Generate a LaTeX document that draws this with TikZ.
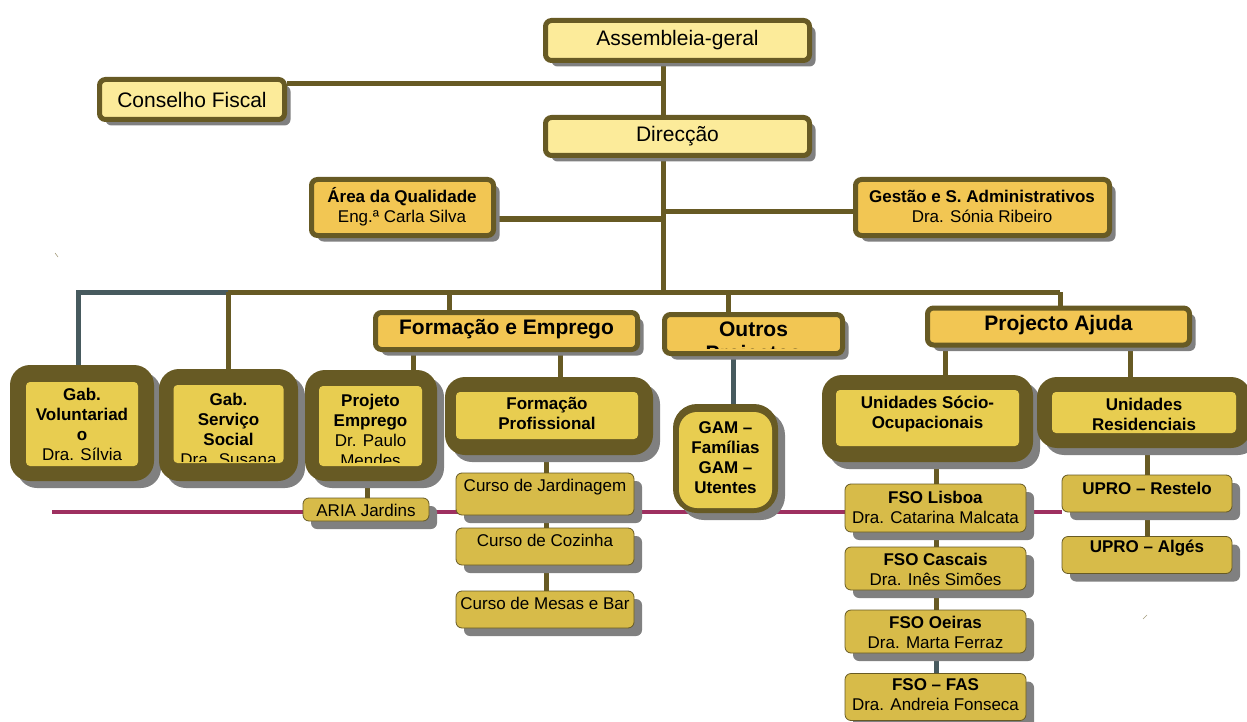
\documentclass[tikz,border=0pt]{standalone}
\usepackage{fontspec}
\setmainfont{Liberation Sans}
\usetikzlibrary{shadows,calc,backgrounds}
\definecolor{oliv}{HTML}{675A24}
\definecolor{lightyel}{HTML}{FCEB9A}
\definecolor{orangey}{HTML}{F2C653}
\definecolor{inneryel}{HTML}{E8CD50}
\definecolor{smallyel}{HTML}{D7BB49}
\definecolor{slate}{HTML}{475A5E}
\definecolor{magen}{HTML}{9E3060}
\definecolor{shad}{HTML}{808080}
\tikzset{
  shd/.style={drop shadow={shadow xshift=#1,shadow yshift=-#1,fill=shad,opacity=1}},
  topbox/.style={draw=oliv,line width=5pt,fill=lightyel,rounded corners=6pt,shd=6pt,inner sep=0pt,
    font=\fontsize{21}{24}\selectfont},
  midbox/.style={draw=oliv,line width=5pt,fill=orangey,rounded corners=6pt,shd=6pt,inner sep=0pt,align=center},
  bigout/.style={fill=oliv,rounded corners=20pt,shd=7pt,inner sep=0pt},
  bigin/.style={fill=inneryel,rounded corners=4pt,inner sep=0pt},
  smallbox/.style={draw=oliv,line width=0.8pt,fill=smallyel,rounded corners=6pt,shd=8pt,inner sep=0pt},
  txt/.style={inner sep=0pt,align=center,font=\fontsize{17}{20}\selectfont},
  conn/.style={draw=oliv,line width=5pt},
  sconn/.style={draw=slate,line width=5pt},
}
\begin{document}
\begin{tikzpicture}[x=1pt,y=-1pt]
\useasboundingbox (0,0) rectangle (1247,722);

% ---- top level
\node[topbox,minimum width=264,minimum height=40] (ag) at (677.5,40.5) {Assembleia-geral};
\node[topbox,minimum width=185,minimum height=40] (cf) at (192,99.5) {Conselho Fiscal};
\node[topbox,minimum width=264,minimum height=38] (dir) at (677.5,136.5) {Direcção};

\node[midbox,minimum width=182,minimum height=56] (aq) at (402.5,207.5) {};
\node[txt] at (402,206.5) {\textbf{Área da Qualidade}\\Eng.ª Carla Silva};
\node[midbox,minimum width=254,minimum height=56] (gsa) at (982.5,207.5) {};
\node[txt] at (982,206.5) {\textbf{Gestão e S. Administrativos}\\Dra. Sónia Ribeiro};

% ---- second level
\node[midbox,minimum width=262,minimum height=37] (fe) at (506.5,331) {};
\node[txt,font=\fontsize{21}{24}\selectfont\bfseries] at (506.5,329) {Formação e Emprego};
\node[midbox,minimum width=178,minimum height=39] (op) at (753.5,334) {};
\node[txt,font=\fontsize{21}{24}\selectfont\bfseries] at (753.5,329) {Outros};
\begin{scope}
  \clip (667,317) rectangle (840,348.5);
  \node[txt,font=\fontsize{21}{24}\selectfont\bfseries] at (753.5,355) {Projectos};
\end{scope}
\node[midbox,minimum width=262,minimum height=37] (pa) at (1058.5,326.5) {};
\node[txt,font=\fontsize{21}{24}\selectfont\bfseries] at (1058.5,325) {Projecto Ajuda};

% ---- big boxes
\node[bigout,minimum width=144,minimum height=116] (gv) at (82,423) {};
\node[bigin,minimum width=112,minimum height=84] (gvi) at (82,424) {};
\node[txt,anchor=north] at (82,388) {\textbf{Gab.}\\\textbf{Voluntariad}\\\textbf{o}\\Dra. Sílvia};

\node[bigout,minimum width=139,minimum height=112] (gss) at (228.5,425) {};
\node[bigin,minimum width=110,minimum height=78] (gssi) at (228.5,424) {};
\begin{scope}
  \clip (173.5,385) rectangle (283.5,461.5);
  \node[txt,anchor=north] at (228.5,393) {\textbf{Gab.}\\\textbf{Serviço}\\\textbf{Social}\\Dra. Susana};
\end{scope}

\node[bigout,minimum width=132,minimum height=111] (pe) at (371,425.5) {};
\node[bigin,minimum width=103,minimum height=80] (pei) at (370.5,426) {};
\begin{scope}
  \clip (319,386) rectangle (422,462.5);
  \node[txt,anchor=north] at (370.5,394) {\textbf{Projeto}\\\textbf{Emprego}\\Dr. Paulo\\Mendes};
\end{scope}

\node[bigout,minimum width=208,minimum height=78] (fp) at (549,416) {};
\node[bigin,minimum width=182,minimum height=47] (fpi) at (547,415.5) {};
\node[txt,anchor=north] at (547,397.5) {\textbf{Formação}\\\textbf{Profissional}};

\node[bigout,minimum width=105,minimum height=109,rounded corners=24pt] (gam) at (725.5,458.5) {};
\node[bigin,minimum width=93,minimum height=96,rounded corners=18pt] (gami) at (725.5,460) {};
\node[txt,font=\fontsize{17}{20}\selectfont\bfseries] at (725.5,458) {GAM –\\Famílias\\GAM –\\Utentes};

\node[bigout,minimum width=211,minimum height=87] (uso) at (927.5,418.5) {};
\node[bigin,minimum width=183,minimum height=56] (usoi) at (927.5,418) {};
\node[txt,font=\fontsize{17}{20}\selectfont\bfseries] at (927.5,414) {Unidades Sócio-\\Ocupacionais};

\node[bigout,minimum width=214,minimum height=71] (ur) at (1144,412.5) {};
\node[bigin,minimum width=184,minimum height=41] (uri) at (1144,412.5) {};
\node[txt,font=\fontsize{17}{20}\selectfont\bfseries] at (1144,414) {Unidades\\Residenciais};

% ---- small boxes
\node[smallbox,minimum width=126,minimum height=23] (aria) at (366,509.5) {};
\node[txt] at (366,510) {ARIA Jardins};
\node[smallbox,minimum width=178,minimum height=42] (cj) at (545,494) {};
\node[txt] at (545,487) {Curso de Jardinagem};
\node[smallbox,minimum width=178,minimum height=37] (cc) at (545,546.5) {};
\node[txt] at (545,540) {Curso de Cozinha};
\node[smallbox,minimum width=178,minimum height=37] (cm) at (545,609.5) {};
\node[txt] at (545,603) {Curso de Mesas e Bar};

\node[smallbox,minimum width=181,minimum height=48] (f1) at (935.5,508) {};
\node[txt] at (935.5,507.5) {\textbf{FSO Lisboa}\\Dra. Catarina Malcata};
\node[smallbox,minimum width=181,minimum height=43] (f2) at (935.5,568.5) {};
\node[txt] at (935.5,569) {\textbf{FSO Cascais}\\Dra. Inês Simões};
\node[smallbox,minimum width=181,minimum height=43] (f3) at (935.5,631.5) {};
\node[txt] at (935.5,632) {\textbf{FSO Oeiras}\\Dra. Marta Ferraz};
\node[smallbox,minimum width=181,minimum height=47] (f4) at (935.5,697) {};
\node[txt] at (935.5,695) {\textbf{FSO – FAS}\\Dra. Andreia Fonseca};

\node[smallbox,minimum width=170,minimum height=37] (u1) at (1147,493.5) {};
\node[txt,font=\fontsize{17}{20}\selectfont\bfseries] at (1147,488) {UPRO – Restelo};
\node[smallbox,minimum width=170,minimum height=37] (u2) at (1147,555) {};
\node[txt,font=\fontsize{17}{20}\selectfont\bfseries] at (1147,548) {UPRO – Algés};

% ---- connectors (behind)
\begin{scope}[on background layer]
  \coordinate (mL) at (52,512);
  \draw[draw=magen,line width=4.5pt] (mL) -- (u1.west |- mL);

  \coordinate (tr) at (663,292);
  \coordinate (cfj) at (663,84);
  \coordinate (aqj) at (663,219);
  \coordinate (gsj) at (663,212);
  \coordinate (bL) at (78,292);
  \coordinate (bS) at (228,292);
  \coordinate (bF) at (449,292);
  \coordinate (bO) at (728,292);
  \coordinate (bR) at (1060,292);

  \draw[conn] (ag.south -| tr) -- (dir.north -| tr);
  \draw[conn] (cf.east |- cfj) -- (cfj);
  \draw[conn] (dir.south -| tr) -- (tr);
  \draw[conn] (aq.east |- aqj) -- (aqj);
  \draw[conn] (gsj) -- (gsa.west |- gsj);

  \draw[sconn] (gv.north -| bL) -- (bL) -- (bS);
  \draw[conn] (bS) -- (bR);
  \draw[conn] (bS) -- (gss.north -| bS);
  \draw[conn] (bF) -- (fe.north -| bF);
  \draw[conn] (bO) -- (op.north -| bO);
  \draw[conn] (bR) -- (pa.north -| bR);

  \coordinate (xpe) at (413,0);
  \coordinate (xfp) at (560,0);
  \draw[conn] (fe.south -| xpe) -- (pe.north -| xpe);
  \draw[conn] (fe.south -| xfp) -- (fp.north -| xfp);

  \coordinate (xgam) at (733,0);
  \draw[sconn] (op.south -| xgam) -- (gam.north -| xgam);

  \coordinate (xu1) at (945,0);
  \coordinate (xu2) at (1130,0);
  \draw[conn] (pa.south -| xu1) -- (uso.north -| xu1);
  \draw[conn] (pa.south -| xu2) -- (ur.north -| xu2);

  \coordinate (xar) at (367,0);
  \draw[conn] (pe.south -| xar) -- (aria.north -| xar);
  \coordinate (xc) at (546,0);
  \draw[conn] (fp.south -| xc) -- (cj.north -| xc);
  \draw[conn] (cj.south -| xc) -- (cc.north -| xc);
  \draw[conn] (cc.south -| xc) -- (cm.north -| xc);

  \coordinate (xf) at (936,0);
  \draw[conn] (uso.south -| xf) -- (f1.north -| xf);
  \draw[conn] (f1.south -| xf) -- (f2.north -| xf);
  \draw[conn] (f2.south -| xf) -- (f3.north -| xf);
  \draw[sconn] (f3.south -| xf) -- (f4.north -| xf);

  \coordinate (xr) at (1147,0);
  \draw[conn] (ur.south -| xr) -- (u1.north -| xr);
  \draw[conn] (u1.south -| xr) -- (u2.north -| xr);
\end{scope}

% stray marks
\draw[draw=oliv!60,line width=0.6pt] (55,253) -- (58,257);
\draw[draw=oliv!60,line width=0.6pt] (1143,619) -- (1147,615);
\end{tikzpicture}
\end{document}
